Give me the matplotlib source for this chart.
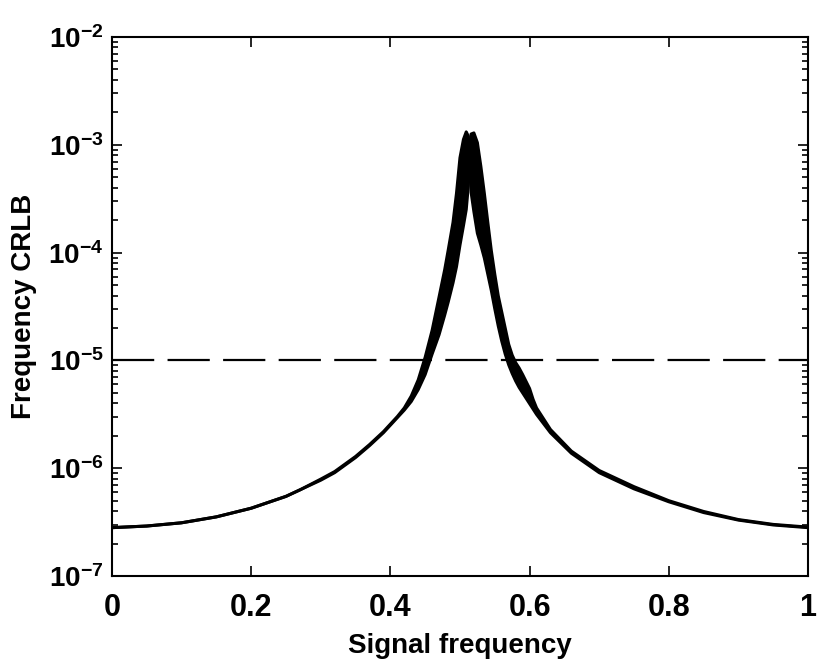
import numpy as np
import matplotlib
matplotlib.use('Agg')
import matplotlib.pyplot as plt
from matplotlib.ticker import LogFormatterMathtext, NullFormatter

plt.rcParams['font.family'] = ['Liberation Sans', 'DejaVu Sans']
plt.rcParams['font.weight'] = 'bold'
plt.rcParams['mathtext.fontset'] = 'custom'
plt.rcParams['mathtext.rm'] = 'Liberation Sans:bold'
plt.rcParams['mathtext.bf'] = 'Liberation Sans:bold'
plt.rcParams['mathtext.it'] = 'Liberation Sans:bold'

# signal frequency grid, shared by both edges of the band
freq = [0, .05, .1, .15, .2, .25, .27, .3, .32, .35, .37, .39, .4, .41, .42,
        .43, .44, .45, .46, .47, .478, .483, .49, .495, .5, .505, .509, .512,
        .514, .516, .52, .525, .53, .535, .54, .545, .55, .555, .56, .565, .57,
        .575, .58, .585, .59, .6, .605, .61, .63, .66, .7, .75, .8, .85, .9,
        .95, 1.0]

# log10 of CRLB, curve peaking just below 0.51 (left edge of the band)
log_crlb_a = [-6.55, -6.535, -6.505, -6.45, -6.37, -6.26, -6.20, -6.10, -6.03,
              -5.89, -5.78, -5.66, -5.59, -5.52, -5.44, -5.33, -5.18, -4.97,
              -4.72, -4.41, -4.16, -3.98, -3.72, -3.45, -3.12, -2.95, -2.88,
              -2.92, -3.15, -3.44, -3.62, -3.82, -3.93, -4.05, -4.20, -4.35,
              -4.52, -4.68, -4.82, -4.94, -5.04, -5.12, -5.19, -5.25, -5.30,
              -5.40, -5.45, -5.50, -5.67, -5.86, -6.04, -6.19, -6.31, -6.41,
              -6.48, -6.525, -6.55]

# log10 of CRLB, curve peaking just above 0.51 (right edge of the band)
log_crlb_b = [-6.55, -6.535, -6.505, -6.45, -6.37, -6.26, -6.20, -6.11, -6.04,
              -5.90, -5.79, -5.67, -5.60, -5.53, -5.46, -5.38, -5.27, -5.13,
              -4.94, -4.76, -4.58, -4.46, -4.28, -4.13, -3.93, -3.75, -3.60,
              -3.38, -3.05, -2.90, -2.89, -2.98, -3.20, -3.45, -3.72, -3.98,
              -4.20, -4.40, -4.55, -4.70, -4.85, -4.95, -5.02, -5.07, -5.13,
              -5.26, -5.36, -5.44, -5.64, -5.84, -6.02, -6.17, -6.30, -6.40,
              -6.475, -6.52, -6.545]

threshold = 1e-5
y_major = [1e-7, 1e-6, 1e-5, 1e-4, 1e-3, 1e-2]
y_minor = [m * d for d in [1e-7, 1e-6, 1e-5, 1e-4, 1e-3] for m in range(2, 10)]

crlb_a = 10.0 ** np.array(log_crlb_a)
crlb_b = 10.0 ** np.array(log_crlb_b)

fig = plt.figure(figsize=(8.17, 6.6), dpi=100)
ax = fig.add_axes([0.137, 0.127, 0.852, 0.817])

ax.fill_between(freq, crlb_a, crlb_b, color='black', linewidth=0)
ax.plot(freq, crlb_a, color='black', lw=2.2)
ax.plot(freq, crlb_b, color='black', lw=2.2)
ax.axhline(threshold, color='black', lw=1.6, linestyle=(0, (19, 6)))

ax.set_yscale('log')
ax.set_xlim(0, 1)
ax.set_ylim(1e-7, 1e-2)
ax.set_xticks([0, 0.2, 0.4, 0.6, 0.8, 1])
ax.set_xticklabels(['0', '0.2', '0.4', '0.6', '0.8', '1'])
ax.set_yticks(y_major)
ax.set_yticks(y_minor, minor=True)
ax.yaxis.set_major_formatter(LogFormatterMathtext())
ax.yaxis.set_minor_formatter(NullFormatter())

ax.tick_params(which='both', direction='in', top=True, right=True, width=1.2)
ax.tick_params(which='major', length=7)
ax.tick_params(which='minor', length=4)
ax.tick_params(axis='x', labelsize=22, pad=12)
ax.tick_params(axis='y', labelsize=20, pad=6)
for s in ax.spines.values():
    s.set_linewidth(1.5)

ax.set_xlabel('Signal frequency', fontsize=20, fontweight='bold', labelpad=7)
ax.set_ylabel('Frequency CRLB', fontsize=20, fontweight='bold', labelpad=8)

fig.savefig('out.png', dpi=100)
